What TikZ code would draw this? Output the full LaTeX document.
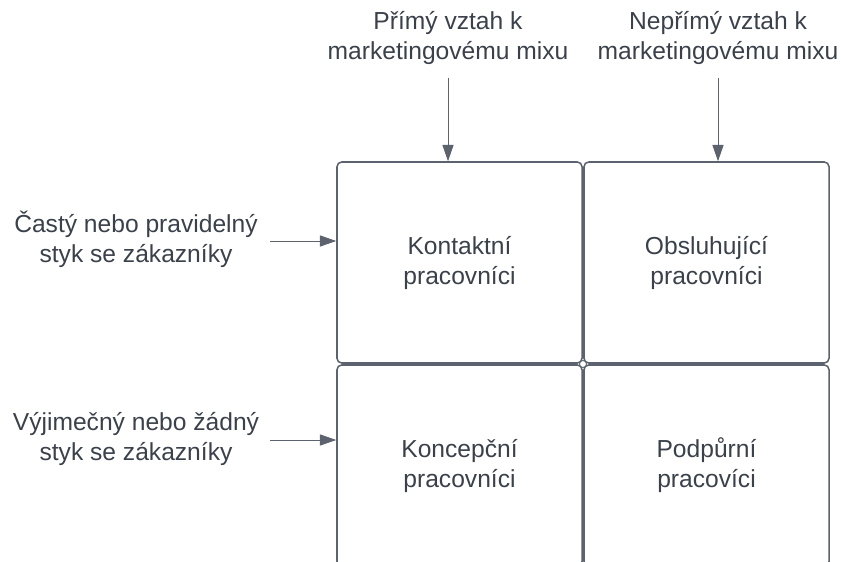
\documentclass[tikz,border=0pt]{standalone}
\usepackage{fontspec}
\setmainfont{Liberation Sans}
\usetikzlibrary{arrows.meta}
\definecolor{inkgray}{HTML}{3A414A}
\definecolor{linegray}{HTML}{5C636E}
\begin{document}
\begin{tikzpicture}[x=0.03cm,y=-0.03cm,
    every node/.style={font=\fontsize{21}{25.6}\selectfont,text=inkgray}]
    \tikzset{
      cell/.style={draw=linegray,line width=1.3pt,rounded corners=4pt,
        minimum width=7.35cm,minimum height=6.03cm,align=center,inner sep=0pt},
      lab/.style={align=center,inner sep=0pt},
      feed/.style={draw=linegray,line width=0.8pt,
        -{Triangle[length=14pt,width=9.5pt]}}
    }
    \useasboundingbox (0,0) rectangle (841,562);
    \clip (0,0) rectangle (841,562);
    % quadrants
    \node[cell] (kontaktni) at (459.5,262.5) {Kontaktní\\pracovníci};
    \node[cell] (obsluhujici) at (706.5,262.5) {Obsluhující\\pracovníci};
    \node[cell] (koncepcni) at (459.5,465.5) {Koncepční\\pracovníci};
    \node[cell] (podpurni) at (706.5,465.5) {Podpůrní\\pracovíci};
    \draw[linegray,line width=0.8pt,fill=white] (583,364) circle (3.5);
    % column headings
    \node[lab] (prime) at (448,38) {Přímý vztah k\\marketingovému mixu};
    \node[lab] (neprime) at (718,38) {Nepřímý vztah k\\marketingovému mixu};
    \coordinate (primeend) at (448,78);
    \coordinate (neprimeend) at (718,78);
    \draw[feed] (primeend) -- (primeend |- kontaktni.north);
    \draw[feed] (neprimeend) -- (neprimeend |- obsluhujici.north);
    % row headings
    \node[lab] (caste) at (136,239) {Častý nebo pravidelný\\styk se zákazníky};
    \node[lab] (vyjimecne) at (136,439) {Výjimečný nebo žádný\\styk se zákazníky};
    \coordinate (casteend) at (270,241);
    \coordinate (vyjimecneend) at (270,440);
    \draw[feed] (casteend) -- (casteend -| kontaktni.west);
    \draw[feed] (vyjimecneend) -- (vyjimecneend -| koncepcni.west);
\end{tikzpicture}
\end{document}
